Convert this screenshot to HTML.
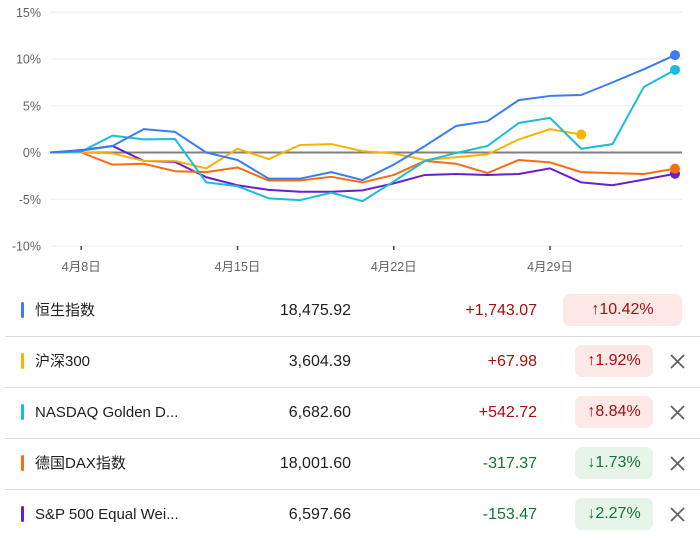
<!DOCTYPE html>
<html><head><meta charset="utf-8"><style>
body{margin:0;width:700px;height:536px;background:#fff;font-family:"Liberation Sans","Noto Sans CJK SC",sans-serif;overflow:hidden;position:relative}
svg text{font-family:"Liberation Sans","Noto Sans CJK SC",sans-serif}
.row{position:absolute;left:0;width:700px;height:51px}
.sep{position:absolute;left:5px;width:695px;height:1px;background:#dadce0}
.bar{position:absolute;left:21px;width:3px;height:16px;top:17px;border-radius:2px}
.name,.price,.chg{position:absolute;top:0;line-height:51px;height:51px}
.name{left:35px;font-size:15px;color:#202124}
.price{right:349px;font-size:16px;color:#202124}
.chg{right:163px;font-size:16px}
.badge{position:absolute;top:9px;height:32px;line-height:32px;border-radius:7px;font-size:16px;text-align:center}
.up{color:#a50e0e}.upb{background:#fce8e6;color:#a50e0e}
.dn{color:#137333}.dnb{background:#e6f4ea;color:#137333}
.x{position:absolute;left:670px;top:18px;width:15px;height:15px}
</style></head><body>
<svg id="chart" width="700" height="280" style="position:absolute;left:0;top:0"></svg>
<div id="table"></div>
<script>
const dates=["4月8日","4月15日","4月22日","4月29日"];
const dateIdx=[1,6,11,16];
const yTicks=[15,10,5,0,-5,-10];
const hsi=[0,0.2,0.7,2.5,2.2,0,-0.8,-2.8,-2.8,-2.1,-2.95,-1.3,0.7,2.85,3.35,5.6,6.05,6.15,7.5,8.9,10.42];
const csi=[0,0,-0.1,-0.9,-0.9,-1.7,0.4,-0.7,0.8,0.9,0.15,-0.1,-0.8,-0.5,-0.2,1.4,2.5,1.92];
const ndx=[0,0.1,1.8,1.4,1.45,-3.2,-3.6,-4.9,-5.1,-4.3,-5.2,-3.1,-0.9,-0.05,0.7,3.15,3.7,0.4,0.9,7.0,8.84];
const dax=[0,0,-1.3,-1.2,-2.0,-2.1,-1.6,-3.0,-3.0,-2.6,-3.2,-2.4,-0.9,-1.2,-2.2,-0.8,-1.05,-2.1,-2.2,-2.3,-1.73];
const spx=[0,0.25,0.7,-0.9,-1.0,-2.65,-3.5,-4.0,-4.2,-4.2,-4.05,-3.3,-2.4,-2.3,-2.4,-2.3,-1.7,-3.2,-3.5,-2.9,-2.27];
const names=["恒生指数","沪深300","NASDAQ Golden D...","德国DAX指数","S&P 500 Equal Wei..."];
const prices=["18,475.92","3,604.39","6,682.60","18,001.60","6,597.66"];
const changes=["+1,743.07","+67.98","+542.72","-317.37","-153.47"];
const pcts=["10.42%","1.92%","8.84%","1.73%","2.27%"];
const colors=["#3b7ded","#f9b300","#1bbbdb","#fb6c0e","#6a1fcf"];
const series=[hsi,csi,ndx,dax,spx];
const ns="http://www.w3.org/2000/svg";
const svg=document.getElementById('chart');
const X=i=>50+i*31.25, Y=v=>152.5-v*9.35;
function mk(t,a){const e=document.createElementNS(ns,t);for(const k in a)e.setAttribute(k,a[k]);svg.appendChild(e);return e;}
yTicks.forEach(t=>{
  const l=mk('line',{x1:50,x2:682,y1:Y(t),y2:Y(t),stroke:t===0?'#808080':'#eeeeee','stroke-width':t===0?2:1});
  
  
  const tx=mk('text',{x:41,y:Y(t)+4.5,'text-anchor':'end','font-size':12.5,fill:'#5f6368'});tx.textContent=t+'%';
  
  
});
dates.forEach((d,k)=>{
  const x=X(dateIdx[k]);
  const tk=mk('line',{x1:x,x2:x,y1:246,y2:250,stroke:'#444','stroke-width':1.5});
  
  
  const tx=mk('text',{x:x,y:271,'text-anchor':'middle','font-size':12.5,fill:'#5f6368'});tx.textContent=d;
  
  
});
[4,3,1,2,0].forEach(s=>{
  const d=series[s];
  const p=mk('polyline',{points:d.map((v,i)=>X(i)+','+Y(v)).join(' '),fill:'none',stroke:colors[s],'stroke-width':2,'stroke-linejoin':'round'});
  
  
  const n=d.length-1;
  const c=mk('circle',{cx:X(n),cy:Y(d[n]),r:5,fill:colors[s]});
  
  
});
const tb=document.getElementById('table');
names.forEach((nm,i)=>{
  const top=285+i*51;
  const up=changes[i][0]==='+';
  const r=document.createElement('div');r.className='row';r.style.top=top+'px';
  
  
  const bl=i===0?563:575;
  r.innerHTML=`<div class="bar" style="background:${colors[i]}"></div>
<div class="name">${nm}</div>
<div class="price">${prices[i]}</div>
<div class="chg ${up?'up':'dn'}">${changes[i]}</div>
<div class="badge ${up?'upb':'dnb'}" style="left:${bl}px;width:${i===0?119:78}px">${up?'↑':'↓'}${pcts[i]}</div>
${i>0?'<svg class="x" viewBox="0 0 15 15"><path d="M1 1L14 14M14 1L1 14" stroke="#5f6368" stroke-width="1.8"/></svg>':''}`;
  tb.appendChild(r);
  if(i<4){const s=document.createElement('div');s.className='sep';s.style.top=(top+51)+'px';
  
  
  tb.appendChild(s);}
});
</script>
</body></html>
